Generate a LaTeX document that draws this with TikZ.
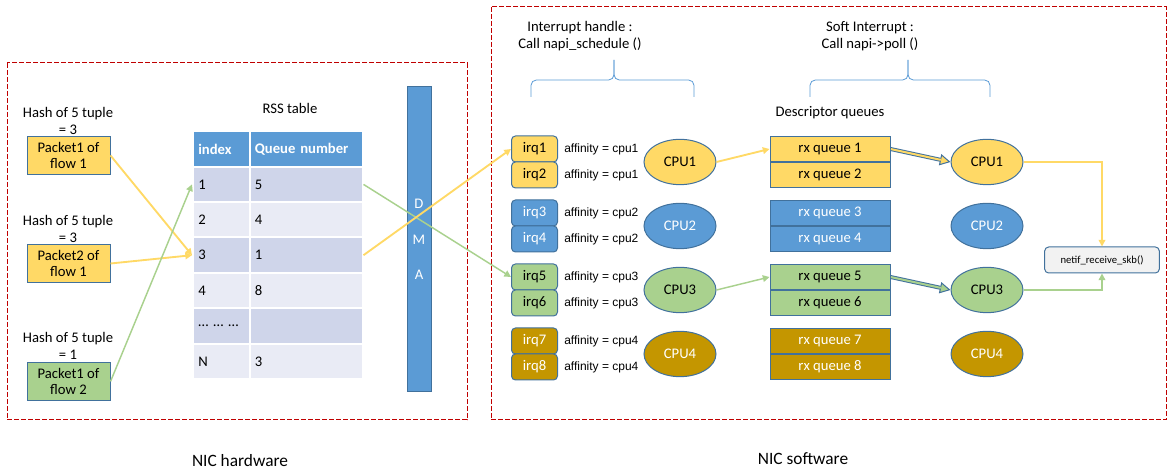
\documentclass[tikz,border=0pt]{standalone}
\usepackage{fontspec}
\setmainfont{Carlito}
\newfontfamily\arialfont{Liberation Sans}
\usetikzlibrary{arrows.meta,shapes.geometric}
\definecolor{nicyellow}{RGB}{255,217,102}
\definecolor{nicgreen}{RGB}{169,209,142}
\definecolor{nicblue}{RGB}{91,155,213}
\definecolor{nicgold}{RGB}{196,150,0}
\definecolor{nicedge}{RGB}{65,113,156}
\definecolor{nicred}{RGB}{192,0,0}
\definecolor{rowdark}{RGB}{207,213,234}
\definecolor{rowlight}{RGB}{233,235,245}
\definecolor{netifgray}{RGB}{242,242,242}
\tikzset{nic/.style={x=0.75pt,y=-0.75pt,font=\fontsize{11}{13}\selectfont,>={Triangle[length=5pt,width=5pt]}},
 zone/.style={draw=nicred,line width=0.75pt,dash pattern=on 3.75pt off 1.5pt},
 hashlabel/.style={align=center,font=\fontsize{11}{12.75}\selectfont},
 pkt/.style={draw=nicedge,line width=0.75pt,minimum width=62.25pt,minimum height=28.5pt,align=center,inner sep=0pt,font=\fontsize{11}{12.5}\selectfont},
 cell/.style={draw=white,line width=1.5pt,minimum height=26.55pt,inner xsep=4pt,align=left},
 dmabar/.style={draw=nicedge,fill=nicblue,line width=0.75pt,minimum width=18pt,minimum height=228.75pt,align=center,text=white,font=\fontsize{11}{26.6}\selectfont},
 irqbox/.style={draw=nicedge,line width=0.75pt,rounded corners=3pt,minimum width=34.5pt,minimum height=19.5pt,inner sep=0pt},
 rxbox/.style={draw=nicedge,line width=0.75pt,minimum width=90pt,minimum height=19pt,inner sep=0pt},
 cpu/.style={draw=nicedge,line width=0.75pt,ellipse,minimum width=54pt,minimum height=34pt,inner sep=0pt},
 aff/.style={anchor=west,inner sep=0pt,font=\arialfont\fontsize{9}{11}\selectfont},
 ylwarrow/.style={->,draw=nicyellow,line width=1.4pt},
 grnarrow/.style={->,draw=nicgreen,line width=1.1pt},
 fatarrow/.style={nicedge,line width=3pt,-{Triangle[length=8pt,width=8.5pt,line width=0.75pt,fill=#1]}},
 fatinner/.style={draw=#1,line width=1.5pt,shorten >=7.5pt,shorten <=0.4pt},
 bracket/.style={draw=nicblue,line width=0.6pt,rounded corners=4pt}}

\begin{document}
\begin{tikzpicture}[nic]
\useasboundingbox (0,0) rectangle (1172,473);
\draw[zone] (7,63) rectangle (467,420);
\draw[zone] (491,7) rectangle (1166,420);
\node[font=\fontsize{13}{15}\selectfont] (hwlabel) at (240,461) {NIC hardware};
\node[font=\fontsize{13}{15}\selectfont] (swlabel) at (803,459) {NIC software};

\node[hashlabel] (hash1) at (68,121) {Hash of 5 tuple\\= 3};
\node[hashlabel] (hash2) at (68,229) {Hash of 5 tuple\\= 3};
\node[hashlabel] (hash3) at (68,346) {Hash of 5 tuple\\= 1};
\node[pkt,fill=nicyellow] (pk1) at (68.5,155.5) {Packet1 of\\flow 1};
\node[pkt,fill=nicyellow] (pk2) at (68.5,263.5) {Packet2 of\\flow 1};
\node[pkt,fill=nicgreen] (pk3) at (68.5,381.5) {Packet1 of\\flow 2};

\node (rsslabel) at (290,108) {RSS table};
\node[cell,fill=nicblue,text width=34.75pt,text=white,font=\fontsize{11}{13}\selectfont\bfseries] (cellA0) at (221.5,149) {index};
\node[cell,fill=nicblue,text width=76.75pt,text=white,font=\fontsize{11}{13}\selectfont\bfseries] (cellB0) at (306,149) {Queue number};
\foreach \i/\a/\b/\c in {1/1/5/rowdark,2/2/4/rowlight,3/3/1/rowdark,4/4/8/rowlight,5/… … …//rowdark,6/N/3/rowlight} {
 \node[cell,fill=\c,text width=34.75pt] (cellA\i) at (221.5,149+35.4*\i) {\a};
 \node[cell,fill=\c,text width=76.75pt] (cellB\i) at (306,149+35.4*\i) {\b};
}
\node[dmabar] (dma) at (419,239.5) {D\\M\\A};

\node[align=center] (irqhead) at (580,36) {Interrupt handle :\\Call napi\_schedule ()};
\node[align=center] (softhead) at (870,36) {Soft Interrupt :\\Call napi->poll ()};
\draw[bracket] (531,97) -- (531,80) -- (614,80) -- (614,60);
\draw[bracket] (694,97) -- (694,80) -- (614,80) -- (614,60);
\draw[bracket] (810,97) -- (810,80) -- (908,80) -- (908,60);
\draw[bracket] (990,97) -- (990,80) -- (908,80) -- (908,60);
\node (desclabel) at (830,113) {Descriptor queues};

\foreach \i/\y/\c/\t in {1/162/nicyellow/black,2/226/nicblue/white,3/290/nicgreen/black,4/354/nicgold/white} {
 \pgfmathtruncatemacro\a{2*\i-1}
 \pgfmathtruncatemacro\b{2*\i}
 \node[irqbox,fill=\c,text=\t] (irq\a) at (534.5,\y-13) {irq\a};
 \node[irqbox,fill=\c,text=\t] (irq\b) at (534.5,\y+13) {irq\b};
 \node[aff] (aff\a) at (564,\y-13) {affinity = cpu\i};
 \node[aff] (aff\b) at (564,\y+13) {affinity = cpu\i};
 \node[cpu,fill=\c,text=\t] (cpuA\i) at (680,\y) {CPU\i};
 \node[rxbox,fill=\c,text=\t] (rx\a) at (830,\y-13) {rx queue \a};
 \node[rxbox,fill=\c,text=\t] (rx\b) at (830,\y+13) {rx queue \b};
 \node[cpu,fill=\c,text=\t] (cpuB\i) at (987,\y) {CPU\i};
}
\node[draw=nicedge,line width=0.75pt,rounded corners=3pt,fill=netifgray,minimum width=86pt,minimum height=19.5pt,font=\fontsize{8}{10}\selectfont] (netif) at (1102,260) {netif\_receive\_skb()};

\draw[ylwarrow] (pk1.east) -- (cellA3.west);
\draw[ylwarrow] (pk2.east) -- (cellA3.west);
\draw[grnarrow] (pk3.east) -- (cellA1.west);
\draw[grnarrow] (cellB1.east) -- (irq5.west);
\draw[ylwarrow] (cellB3.east) -- (irq1.west);
\draw[ylwarrow] (cpuA1.east) -- (rx1.west);
\draw[grnarrow] (cpuA3.east) -- (rx5.west);
\draw[fatarrow=nicyellow] (rx1.east) -- (cpuB1.west);
\draw[fatinner=nicyellow] (rx1.east) -- (cpuB1.west);
\draw[fatarrow=nicgreen] (rx5.east) -- (cpuB3.west);
\draw[fatinner=nicgreen] (rx5.east) -- (cpuB3.west);
\draw[ylwarrow] (cpuB1.east) -| (netif.north);
\draw[grnarrow] (cpuB3.east) -| (netif.south);
\end{tikzpicture}
\end{document}
